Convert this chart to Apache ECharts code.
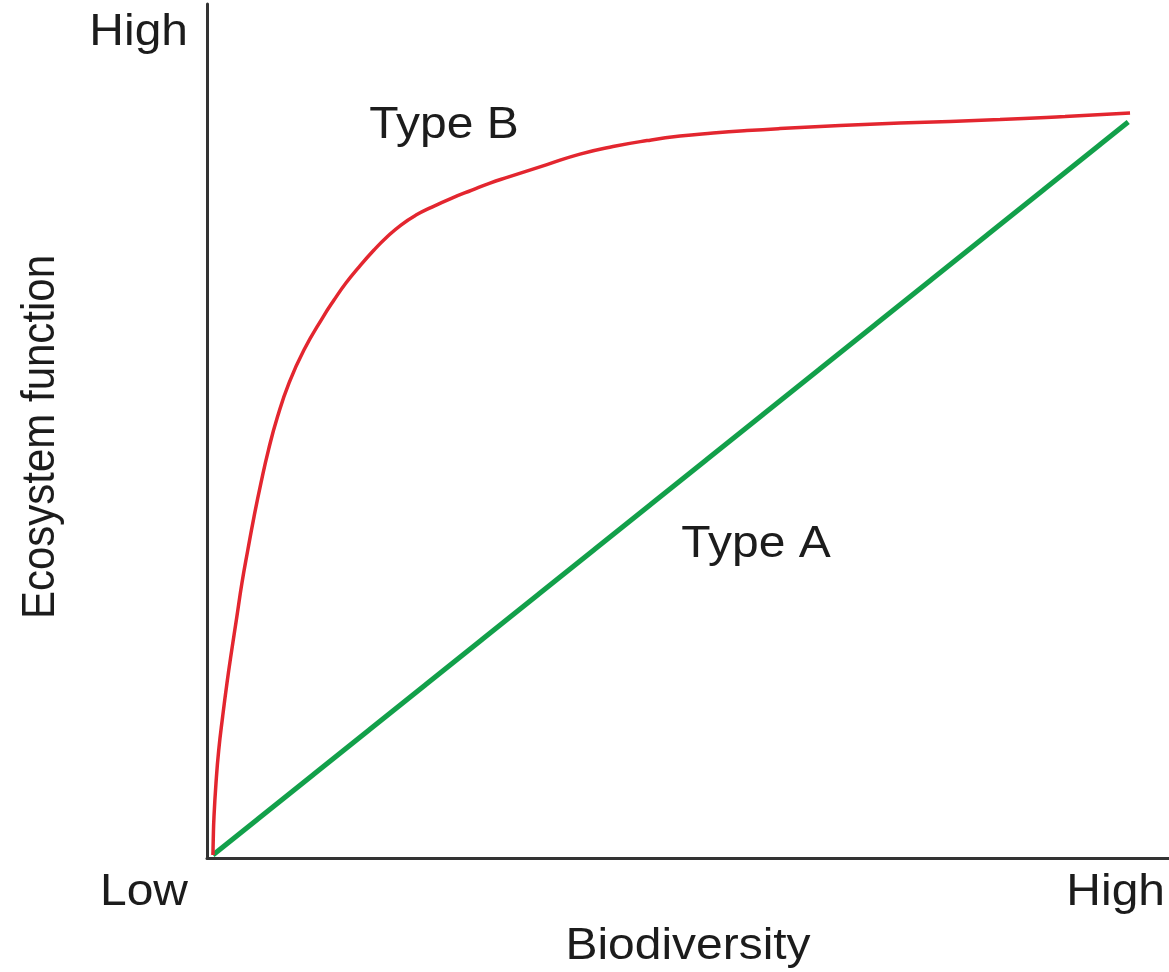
<!DOCTYPE html>
<html>
<head>
<meta charset="utf-8">
<script src="https://cdn.jsdelivr.net/npm/echarts@6/dist/echarts.min.js"></script>
<style>
html,body{margin:0;padding:0;background:#fff;}
#chart{width:1169px;height:972px;}
</style>
</head>
<body>
<div id="chart"></div>
<script>
// Biodiversity (0 = low, 100 = high) and ecosystem function (0 = low, 100 = high)
var typeBX = [0, 0.03, 0.11, 0.33, 0.63, 1.05, 1.53, 2.05, 2.60, 3.16, 3.80, 4.47, 5.23, 6.05, 7.03, 8.29, 9.92, 12.00, 13.20, 14.50, 15.92, 17.56, 18.97, 20.50, 22.14, 23.88, 26.06, 28.24, 30.21, 32.17, 36.42, 40.02, 43.62, 47.33, 50.93, 54.53, 58.23, 61.83, 68.38, 74.92, 85.82, 92.91, 100];
var typeBY = [0, 2.02, 5.12, 9.70, 14.15, 18.60, 23.18, 27.63, 32.08, 36.66, 41.11, 45.55, 50.13, 54.58, 59.03, 63.61, 68.06, 72.51, 74.80, 77.09, 79.25, 81.54, 83.29, 84.91, 86.25, 87.33, 88.54, 89.62, 90.57, 91.37, 93.06, 94.47, 95.49, 96.29, 96.90, 97.30, 97.64, 97.91, 98.32, 98.65, 99.12, 99.53, 100];
var typeAX = [0, 99.8];
var typeAY = [0, 98.8];
var xTickLabels = ['Low', 'High'];
var yTickLabels = ['High'];
var xAxisTitle = 'Biodiversity';
var yAxisTitle = 'Ecosystem function';
var seriesNames = ['Type A', 'Type B'];

function pairs(xs, ys) { return xs.map(function (x, i) { return [x, ys[i]]; }); }

var font = '"Liberation Sans", Arial, sans-serif';
var txtColor = '#1c1c1c';
function txt(text, x, y, align) {
  return {
    type: 'text', x: x, y: y, scaleX: 1.09,
    style: { text: text, font: '44px ' + font, fill: txtColor, textAlign: align || 'center', textVerticalAlign: 'middle' }
  };
}

var chart = echarts.init(document.getElementById('chart'), null, { renderer: 'canvas' });
chart.setOption({
  backgroundColor: '#ffffff',
  animation: false,
  grid: { left: 207, right: 0, top: 4, bottom: 114, containLabel: false },
  xAxis: {
    type: 'value', min: -0.65, max: 104.25,
    axisLine: { show: true, onZero: false, lineStyle: { color: '#333333', width: 3 } },
    axisTick: { show: false }, axisLabel: { show: false }, splitLine: { show: false }
  },
  yAxis: {
    type: 'value', min: -0.4, max: 114.7,
    axisLine: { show: true, onZero: false, lineStyle: { color: '#333333', width: 3 } },
    axisTick: { show: false }, axisLabel: { show: false }, splitLine: { show: false }
  },
  series: [
    {
      name: seriesNames[0], type: 'line', data: pairs(typeAX, typeAY),
      showSymbol: false, lineStyle: { color: '#12a04a', width: 5 }, z: 2
    },
    {
      name: seriesNames[1], type: 'line', data: pairs(typeBX, typeBY),
      smooth: 0.5,
      showSymbol: false, lineStyle: { color: '#e3262f', width: 3.5 }, z: 3
    }
  ],
  graphic: [
    txt(yTickLabels[0], 188, 33, 'right'),
    txt(xTickLabels[0], 188, 893, 'right'),
    txt(xTickLabels[1], 1165, 893, 'right'),
    txt(xAxisTitle, 688, 947, 'center'),
    {
      type: 'text', x: 41, y: 437, rotation: Math.PI / 2, scaleY: 1.08,
      style: { text: yAxisTitle, font: '42px ' + font, fill: txtColor, textAlign: 'center', textVerticalAlign: 'middle' }
    },
    txt(seriesNames[1], 444, 126, 'center'),
    txt(seriesNames[0], 756, 545, 'center')
  ]
});
</script>
</body>
</html>
